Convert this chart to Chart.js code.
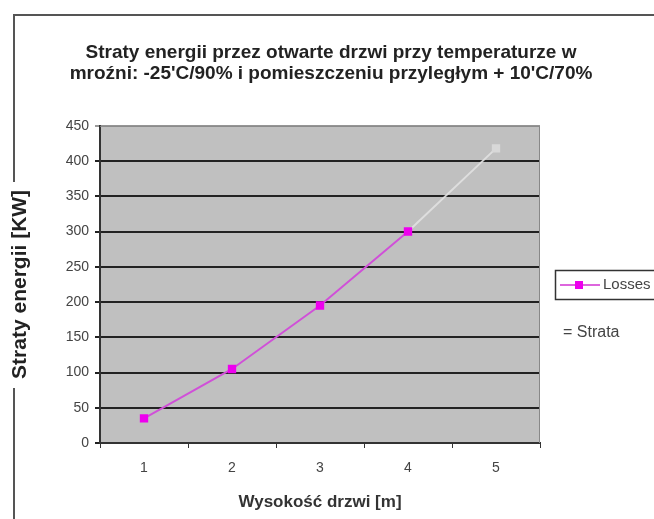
<!DOCTYPE html>
<html>
<head>
<meta charset="utf-8">
<script src="https://cdn.jsdelivr.net/npm/chart.js@4.4.0/dist/chart.umd.min.js"></script>
<style>
  html, body { margin: 0; padding: 0; background: #fff; }
  #wrap { width: 654px; height: 519px; position: relative; }
</style>
</head>
<body>
<div id="wrap"><canvas id="chart" width="654" height="519"></canvas></div>
<script>
// Door height categories and energy losses
const heights = ["1", "2", "3", "4", "5"];
const losses = [35, 105, 195, 300, 418];
const yTicks = [0, 50, 100, 150, 200, 250, 300, 350, 400, 450];

const titleLines = [
  "Straty energii przez otwarte drzwi przy temperaturze w",
  "mroźni: -25'C/90% i pomieszczeniu przyległym + 10'C/70%",
];

const FONT = "'Liberation Sans', Arial, sans-serif";

// Background of plot, outer frame and legend
const decor = {
  id: "decor",
  beforeDraw(chart) {
    const { ctx, chartArea: a } = chart;
    ctx.save();
    ctx.fillStyle = "#fff";
    ctx.fillRect(0, 0, chart.width, chart.height);
    ctx.fillStyle = "#c0c0c0";
    ctx.fillRect(a.left, a.top, a.right - a.left, a.bottom - a.top);
    // outer frame (top and left, left one broken by y title)
    ctx.strokeStyle = "#555";
    ctx.lineWidth = 2;
    ctx.beginPath();
    ctx.moveTo(14, chart.height);
    ctx.lineTo(14, 388);
    ctx.moveTo(14, 182);
    ctx.lineTo(14, 15);
    ctx.lineTo(chart.width, 15);
    ctx.stroke();
    ctx.restore();
  },
  afterDraw(chart) {
    const { ctx, chartArea: a } = chart;
    ctx.save();
    ctx.strokeStyle = "#888";
    ctx.lineWidth = 1;
    ctx.beginPath();
    ctx.moveTo(a.left, a.top + 0.5);
    ctx.lineTo(a.right - 0.5, a.top + 0.5);
    ctx.lineTo(a.right - 0.5, a.bottom);
    ctx.stroke();
    // legend box
    ctx.strokeStyle = "#333";
    ctx.lineWidth = 1.5;
    ctx.strokeRect(555.5, 270.5, 110, 29);
    ctx.strokeStyle = "#dd66dd";
    ctx.lineWidth = 2;
    ctx.beginPath();
    ctx.moveTo(560, 285);
    ctx.lineTo(600, 285);
    ctx.stroke();
    ctx.fillStyle = "#ee00ee";
    ctx.fillRect(575, 281, 8, 8);
    ctx.fillStyle = "#444";
    ctx.font = "15px " + FONT;
    ctx.textBaseline = "middle";
    ctx.fillText("Losses", 603, 285);
    ctx.font = "16px " + FONT;
    ctx.fillText("= Strata", 563, 333);
    ctx.restore();
  },
};

new Chart(document.getElementById("chart"), {
  type: "line",
  data: {
    labels: heights,
    datasets: [
      {
        label: "Losses",
        data: losses,
        borderColor: "#d050d8",
        borderWidth: 2,
        pointStyle: "rect",
        pointRadius: 4.5,
        pointBackgroundColor: ["#ee00ee", "#ee00ee", "#ee00ee", "#ee00ee", "#d8d8d8"],
        pointBorderColor: ["#ee00ee", "#ee00ee", "#ee00ee", "#ee00ee", "#d8d8d8"],
        tension: 0,
        segment: {
          borderColor: (c) => (c.p1DataIndex === 4 ? "rgba(225,225,225,0.9)" : undefined),
        },
      },
    ],
  },
  options: {
    responsive: false,
    animation: false,
    layout: { padding: { left: 8, right: 0, top: 0, bottom: 2 } },
    plugins: {
      legend: { display: false },
      tooltip: { enabled: false },
      title: {
        display: true,
        text: titleLines,
        color: "#222",
        font: { family: FONT, size: 19, weight: "bold", lineHeight: 1.1 },
        padding: { top: 42, bottom: 42 },
      },
    },
    scales: {
      x: {
        offset: true,
        grid: {
          offset: true,
          drawOnChartArea: false,
          drawTicks: true,
          tickLength: 5,
          color: "#333",
        },
        border: { color: "#333", width: 2 },
        ticks: { color: "#444", font: { family: FONT, size: 14 }, padding: 12 },
        title: {
          display: true,
          text: "Wysokość drzwi [m]",
          color: "#333",
          font: { family: FONT, size: 17, weight: "bold" },
          padding: { top: 11 },
        },
        afterFit(s) {
          s.height = 74;
        },
      },
      y: {
        min: 0,
        max: 450,
        afterBuildTicks(s) {
          s.ticks = yTicks.map((v) => ({ value: v }));
        },
        grid: {
          color: (c) => (c.tick && c.tick.value === 450 ? "#999" : "#222"),
          lineWidth: 2,
          tickLength: 5,
        },
        border: { color: "#333", width: 2 },
        ticks: { color: "#444", font: { family: FONT, size: 14 }, padding: 6 },
        title: {
          display: true,
          text: "Straty energii [KW]",
          color: "#222",
          font: { family: FONT, size: 21, weight: "bold" },
          padding: { top: 0, bottom: 0 },
        },
        afterFit(s) {
          s.width = 92;
        },
      },
      // empty right-hand axis that keeps room for the legend
      side: {
        position: "right",
        display: true,
        grid: { display: false },
        border: { display: false },
        ticks: { display: false },
        afterFit(s) {
          s.width = 114;
        },
      },
    },
  },
  plugins: [decor],
});
</script>
</body>
</html>
